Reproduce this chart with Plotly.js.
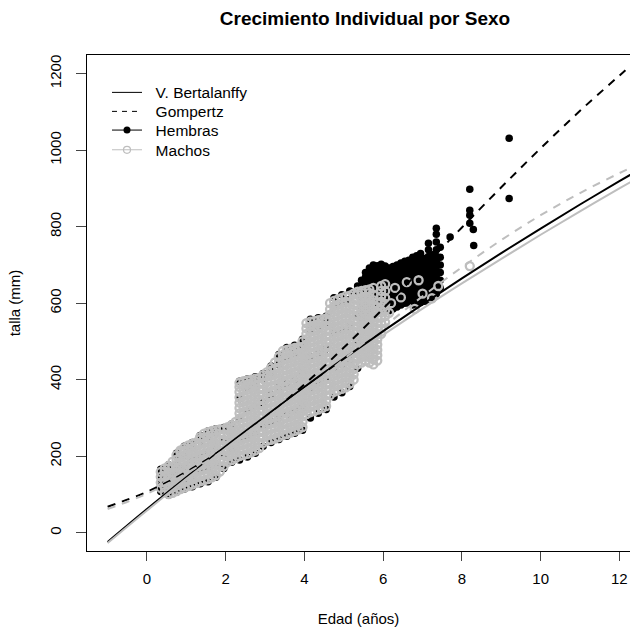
<!DOCTYPE html>
<html><head><meta charset="utf-8">
<script src="https://cdn.plot.ly/plotly-3.0.1.min.js"></script>
<style>html,body{margin:0;padding:0;background:#fff;overflow:hidden}#chart{width:630px;height:630px}</style>
</head><body><div id="chart"></div>
<script>
// ---- fitted curves ----
const curveEdad   = [-1,0,1,2,3,4,5,6,7,8,9,10,11,12,12.5];
const vbHembras   = [-24,62,145,226,304,381,455,527,597,665,731,795,858,919,949];
const vbMachos    = [-27,58,141,221,298,374,447,517,586,652,716,779,840,900,929];
const gompHembras = [68,107,159,224,301,388,484,586,692,798,903,1005,1103,1195,1240];
const gompMachos  = [62,102,155,219,292,371,454,537,618,694,765,830,888,940,964];

// ---- Machos: vertical streaks (age -> lengths) ----
const machosEdad = [0.35,0.45,0.55,0.65,0.75,0.85,0.95,1.05,1.15,1.25,1.35,1.45,1.55,1.65,1.75,1.85,1.95,2.05,2.15,2.25,2.35,2.45,2.55,2.65,2.75,2.85,2.95,3.05,3.15,3.25,3.35,3.45,3.55,3.65,3.75,3.85,3.95,4.05,4.15,4.25,4.35,4.45,4.55,4.65,4.75,4.85,4.95,5.05,5.15,5.25,5.35,5.45,5.55,5.65,5.75,5.85,5.95,6.05];
const machosTalla = [
[117,131,146,159],
[106,119,133,147,160,168],
[101,114,128,141,155,168,175],
[104,118,131,145,158,172,186],
[109,123,137,150,164,178,191,203],
[114,128,142,155,169,183,197,210,215],
[118,132,146,160,173,187,201,214,222],
[122,136,150,164,177,191,205,218,228],
[126,140,154,168,181,195,209,222,232],
[130,144,158,172,185,199,213,226,236],
[134,148,162,176,190,203,217,231,244,250],
[137,151,165,179,193,207,220,234,248,259],
[140,154,168,182,196,210,224,238,251,263],
[145,159,173,187,201,215,228,242,256,266],
[150,164,178,192,206,220,233,247,261,268],
[160,174,188,202,215,229,243,257,270],
[174,188,202,216,229,243,257,271],
[185,199,213,227,240,254,268,276],
[190,204,218,232,246,260,273,281],
[195,209,223,237,251,265,278,290],
[200,214,228,242,256,270,284,298,312,326,340,354,368,381,392],
[203,217,231,245,259,273,287,301,315,329,343,357,371,385,396],
[206,220,234,248,262,276,290,304,318,332,346,360,374,388,398],
[210,224,238,252,266,280,294,308,322,336,350,364,378,391,400],
[215,229,243,257,271,285,299,313,327,341,355,369,383,396,403],
[221,235,249,263,277,291,305,319,333,347,361,375,389,405],
[235,249,263,277,291,305,319,333,347,361,375,389,402,412],
[240,254,268,282,296,310,324,338,352,366,380,394,408,420],
[243,257,271,285,299,313,327,341,355,369,383,397,411,424,431],
[246,260,274,288,302,316,330,344,358,372,386,400,414,428,445],
[250,264,278,292,306,320,334,348,362,376,390,404,418,432,446,460],
[255,269,283,297,311,325,339,353,367,381,395,409,423,437,451,465,475],
[258,272,286,300,314,328,342,356,370,384,398,412,426,440,454,468,478],
[262,276,290,304,318,332,346,360,374,388,402,416,430,444,458,472,481],
[266,280,294,308,322,336,350,364,378,392,406,420,434,448,462,476,483],
[270,284,298,312,326,340,354,368,382,396,410,424,438,452,466,480,486],
[276,290,304,318,332,346,360,374,388,402,416,430,444,458,472,486,500],
[310,324,338,352,366,380,394,408,422,436,450,464,478,492,506,520,534,548],
[315,329,343,357,371,385,399,413,427,441,455,469,483,497,511,525,539,552],
[318,332,346,360,374,388,402,416,430,444,458,472,486,500,514,528,542,554],
[322,336,350,364,378,392,406,420,434,448,462,476,490,504,518,532,546,556],
[326,340,354,368,382,396,410,424,438,452,466,480,494,508,522,536,550,558],
[331,345,359,373,387,401,415,429,443,457,471,485,499,513,527,541,555,560],
[360,374,388,402,416,430,444,458,472,486,500,514,528,542,556,570,584,600],
[368,382,396,410,424,438,452,466,480,494,508,522,536,550,564,578,592,606],
[372,386,400,414,428,442,456,470,484,498,512,526,540,554,568,582,596,610],
[376,390,404,418,432,446,460,474,488,502,516,530,544,558,572,586,600,614],
[380,394,408,422,436,450,464,478,492,506,520,534,548,562,576,590,604,618],
[390,404,418,432,446,460,474,488,502,516,530,544,558,572,586,600,620],
[400,414,428,442,456,470,484,498,512,526,540,554,568,582,596,610,625],
[440,454,468,482,496,510,524,538,552,566,580,594,608,622,630],
[445,459,473,487,501,515,529,543,557,571,585,599,613,627,632],
[450,464,478,492,506,520,534,548,562,576,590,604,618,634],
[445,459,473,487,501,515,529,543,557,571,585,599,613,627,636],
[440,454,468,482,496,510,524,538,552,566,580,594,608,622,640],
[450,464,478,492,506,520,534,548,562,576,590,600],
[520,534,548,562,576,590,604,618,632,645],
[550,566,582,598,614,632,650]
];
const machosSueltosEdad  = [6.15,6.2,6.3,6.45,6.6,6.8,6.9,7.0,7.24,7.4,8.2];
const machosSueltosTalla = [575,600,640,615,655,585,660,625,613,645,697];

// ---- Hembras: vertical streaks (age -> lengths) ----
const hembrasEdad = [0.35,0.55,0.75,0.95,1.15,1.35,1.55,1.75,1.95,2.15,2.35,2.55,2.75,2.95,3.15,3.35,3.55,3.75,3.95,4.15,4.35,4.55,4.75,4.95,5.15,5.35,5.45,5.55,5.65,5.75,5.85,5.95,6.05,6.15,6.25,6.35,6.45,6.55,6.65,6.75,6.85,6.95,7.05,7.15,7.25,7.35,7.45];
const hembrasTalla = [
[108,122,140,158,166],
[98,112,130,150,170,178],
[106,125,150,175,200,208],
[114,140,170,200,226],
[120,150,190,225,236],
[128,160,200,240,254],
[133,170,210,250,266],
[145,180,220,260,272],
[168,200,240,275],
[184,220,250,284],
[190,240,300,350,396],
[198,250,320,380,402],
[208,260,330,390,408],
[226,280,340,400,416],
[236,290,360,420,436],
[244,300,380,440,466],
[252,310,390,460,484],
[260,320,400,470,490],
[268,330,420,490,506],
[300,380,460,530,558],
[312,390,470,540,562],
[322,400,480,550,566],
[355,430,520,590,614],
[366,440,530,600,622],
[382,450,540,610,632],
[430,500,570,620,645],
[560,574,588,602,616,630,644,660],
[570,584,598,612,626,640,654,668,680],
[580,594,608,622,636,650,664,678,692],
[590,604,618,632,646,660,674,688,700],
[600,614,628,642,656,670,684,698],
[590,604,618,632,646,660,674,688,702],
[585,599,613,627,641,655,669,683,697],
[580,594,608,622,636,650,664,678,692],
[585,599,613,627,641,655,669,683,696],
[590,604,618,632,646,660,674,688,700],
[595,609,623,637,651,665,679,693,705],
[600,614,628,642,656,670,684,698,710],
[600,614,628,642,656,670,684,698,712],
[595,609,623,637,651,665,679,693,707,720],
[598,612,626,640,654,668,682,696,710,724],
[602,616,630,644,658,672,686,700,714,730],
[605,619,633,647,661,675,689,703,717],
[610,624,638,652,666,680,694,708,722,740,757],
[615,629,643,657,671,685,699,713,727],
[625,639,653,667,681,695,709,723,740,760,780,796],
[640,660,680,700,720,746]
];
const hembrasSueltasEdad  = [7.7,8.2,8.2,8.2,8.2,8.29,8.3,9.2,9.2];
const hembrasSueltasTalla = [773,898,843,830,809,793,751,1031,874];

// legend labels, in order
const legendNames = ['V. Bertalanffy','Gompertz','Hembras','Machos'];

function flatten(ages, lists, ex, ey){
  const x=[], y=[];
  ages.forEach((a,i)=>lists[i].forEach(v=>{x.push(a); y.push(v);}));
  return {x:x.concat(ex), y:y.concat(ey)};
}
const H = flatten(hembrasEdad, hembrasTalla, hembrasSueltasEdad, hembrasSueltasTalla);
const M = flatten(machosEdad, machosTalla, machosSueltosEdad, machosSueltosTalla);

const GRAY = '#BEBEBE';
const DASH = '8px,7px';
const PAD = '\u00A0\u00A0';
const traces = [
  {x:H.x, y:H.y, type:'scatter', mode:'markers', showlegend:false, hoverinfo:'skip',
   marker:{symbol:'circle', size:7.5, color:'#000', line:{width:0}}},
  {x:M.x, y:M.y, type:'scatter', mode:'markers', showlegend:false, hoverinfo:'skip',
   marker:{symbol:'circle-open', size:8, color:GRAY, line:{width:2.3, color:GRAY}}},
  {x:curveEdad, y:vbHembras, type:'scatter', mode:'lines', line:{color:'#000', width:2, shape:'spline'}, showlegend:false},
  {x:curveEdad, y:gompHembras, type:'scatter', mode:'lines', line:{color:'#000', width:2, dash:DASH, shape:'spline'}, showlegend:false},
  {x:curveEdad, y:vbMachos, type:'scatter', mode:'lines', line:{color:GRAY, width:2, shape:'spline'}, showlegend:false},
  {x:curveEdad, y:gompMachos, type:'scatter', mode:'lines', line:{color:GRAY, width:2, dash:DASH, shape:'spline'}, showlegend:false},
  // legend entries (one small legend per row so spacing matches)
  {x:[null], y:[null], type:'scatter', mode:'lines', name:PAD+legendNames[0], legend:'legend', line:{color:'#000', width:1}},
  {x:[null], y:[null], type:'scatter', mode:'lines', name:PAD+legendNames[1], legend:'legend2', line:{color:'#000', width:1, dash:'5px,5px'}},
  {x:[null], y:[null], type:'scatter', mode:'lines+markers', name:PAD+legendNames[2], legend:'legend3', line:{color:'#000', width:1}, marker:{symbol:'circle', size:7, color:'#000'}},
  {x:[null], y:[null], type:'scatter', mode:'lines+markers', name:PAD+legendNames[3], legend:'legend4', line:{color:GRAY, width:1}, marker:{symbol:'circle-open', size:7, color:GRAY, line:{width:1.2, color:GRAY}}}
];

const FONT = 'Liberation Sans, Arial, Helvetica, sans-serif';
function leg(rowCenterPx){
  return {x:(107-87)/543, xanchor:'left', y:1-(rowCenterPx-17.5-55)/496, yanchor:'top',
          bgcolor:'rgba(0,0,0,0)', borderwidth:0, itemwidth:30,
          font:{family:FONT, size:15.5, color:'#000'}, itemclick:false};
}
const layout = {
  width:630, height:630,
  margin:{l:87, r:0, t:55, b:79, pad:0},
  paper_bgcolor:'#fff', plot_bgcolor:'#fff',
  font:{family:FONT, size:15, color:'#000'},
  title:{text:'<b>Crecimiento Individual por Sexo</b>', font:{family:FONT, size:19, color:'#000'},
         x:365/630, xref:'container', xanchor:'center', y:1-18/630, yref:'container', yanchor:'middle'},
  showlegend:true,
  legend:leg(93.3), legend2:leg(112.3), legend3:leg(131), legend4:leg(150.7),
  xaxis:{range:[-1.524, 12.27], tickvals:[0,2,4,6,8,10,12], ticktext:['0','2','4','6','8','10','12'],
         ticks:'outside', ticklen:9, tickwidth:1, tickcolor:'#444', showline:true, linecolor:'#000', linewidth:1,
         mirror:true, showgrid:false, zeroline:false, tickfont:{size:15}, ticklabelstandoff:5,
         title:{text:'Edad (años)', font:{size:15}, standoff:27}},
  yaxis:{range:[-47.8, 1248.9], tickvals:[0,200,400,600,800,1000,1200], ticktext:['0','200','400','600','800','1000','1200'],
         tickangle:-90, ticks:'outside', ticklen:10, tickwidth:1, tickcolor:'#444', showline:true, linecolor:'#000', linewidth:1,
         mirror:false, showgrid:false, zeroline:false, tickfont:{size:15}, ticklabelstandoff:9,
         title:{text:'talla (mm)', font:{size:15}, standoff:22}}
};
Plotly.newPlot('chart', traces, layout, {displayModeBar:false, staticPlot:true});
</script></body></html>
